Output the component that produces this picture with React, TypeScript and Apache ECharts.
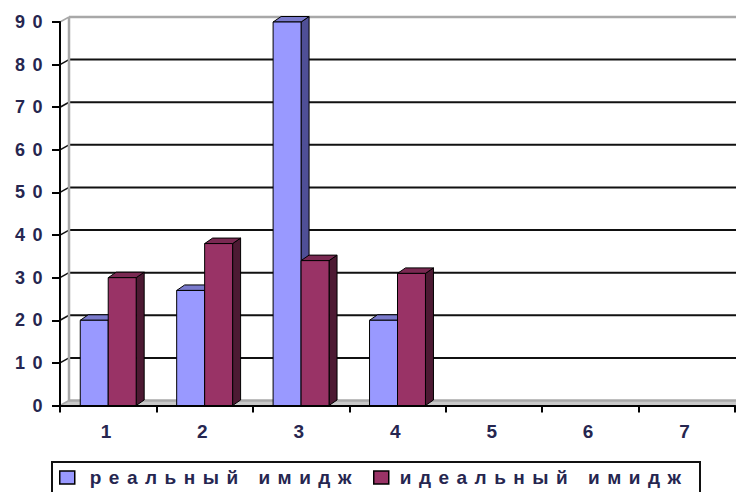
import React, { useEffect, useRef } from "react";
import * as echarts from "echarts";

const categories = ["1", "2", "3", "4", "5", "6", "7"];
const realImage = [20, 27, 90, 20, null, null, null];
const idealImage = [30, 38, 34, 31, null, null, null];
const yTicks = [0, 10, 20, 30, 40, 50, 60, 70, 80, 90];
const seriesNames = ["реальный имидж", "идеальный имидж"];

const FONT = "'Liberation Sans', Arial, sans-serif";
const TEXT_COLOR = "#262650";
const DX = 8;
const DY = -5.5;
const WALL_DX = 9;
const WALL_DY = -5;

const palettes = [
  { front: "#9999ff", top: "#7a7acc", side: "#4f4f96" },
  { front: "#993366", top: "#7a2952", side: "#4d1a33" },
];

function barRenderer(seriesIdx: number) {
  return (params: any, api: any) => {
    const val = api.value(1);
    if (val === null || val === undefined || isNaN(val)) return null;
    const idx = api.value(0);
    const base = api.coord([idx, 0]);
    const top = api.coord([idx, val]);
    const band = api.size([1, 0])[0];
    const w = band * 0.29;
    const left = seriesIdx === 0 ? base[0] - w : base[0];
    const right = left + w;
    const yb = base[1];
    const yt = top[1];
    const pal = palettes[seriesIdx];
    const stroke = { stroke: "#000", lineWidth: 1 };
    return {
      type: "group",
      children: [
        {
          type: "polygon",
          shape: {
            points: [
              [right, yt],
              [right + DX, yt + DY],
              [right + DX, yb + DY],
              [right, yb],
            ],
          },
          style: { fill: pal.side, ...stroke },
        },
        {
          type: "polygon",
          shape: {
            points: [
              [left, yt],
              [left + DX, yt + DY],
              [right + DX, yt + DY],
              [right, yt],
            ],
          },
          style: { fill: pal.top, ...stroke },
        },
        {
          type: "rect",
          shape: { x: left, y: yt, width: w, height: yb - yt },
          style: { fill: pal.front, ...stroke },
        },
      ],
    };
  };
}

function gridRenderer(params: any, api: any) {
  const v = api.value(1);
  const cs = params.coordSys;
  const p = api.coord([0, v]);
  const y = p[1];
  const x0 = cs.x;
  const isEdge = v === yTicks[0] || v === yTicks[yTicks.length - 1];
  const color = isEdge ? "#a8a8a8" : "#111";
  const lw = isEdge ? 2.5 : 2;
  const children: any[] = [
    {
      type: "line",
      shape: { x1: x0, y1: y, x2: x0 + WALL_DX, y2: y + WALL_DY },
      style: { stroke: color, lineWidth: 1.5 },
    },
    {
      type: "line",
      shape: { x1: x0 + WALL_DX, y1: y + WALL_DY, x2: x0 + cs.width + 20, y2: y + WALL_DY },
      style: { stroke: color, lineWidth: lw },
    },
  ];
  if (v === yTicks[0]) {
    children.unshift({
      type: "polygon",
      shape: {
        points: [
          [x0, y],
          [x0 + WALL_DX, y + WALL_DY],
          [x0 + cs.width + 20, y + WALL_DY],
          [x0 + cs.width + 20, y],
        ],
      },
      style: { fill: "#c8c8c8" },
    });
  }
  if (v === yTicks[yTicks.length - 1]) {
    const bottom = api.coord([0, yTicks[0]])[1];
    children.push({
      type: "line",
      shape: { x1: x0 + WALL_DX, y1: y + WALL_DY, x2: x0 + WALL_DX, y2: bottom + WALL_DY },
      style: { stroke: "#a8a8a8", lineWidth: 2.5 },
    });
  }
  return { type: "group", children };
}

export default function App() {
  const ref = useRef<HTMLDivElement>(null);
  useEffect(() => {
    if (!ref.current) return;
    const chart = echarts.init(ref.current, null, { renderer: "svg" });
    const legendText = {
      color: TEXT_COLOR,
      fontFamily: FONT,
      fontWeight: "bold",
      fontSize: 19,
    };
    const option: any = {
      animation: false,
      backgroundColor: "#fff",
      textStyle: { fontFamily: FONT },
      grid: { left: 60, right: 1, top: 22, bottom: 86.5, containLabel: false },
      xAxis: {
        type: "category",
        data: categories,
        boundaryGap: true,
        axisLine: { show: true, lineStyle: { color: "#000", width: 2 } },
        axisTick: { show: true, length: 7, interval: 0, lineStyle: { color: "#000", width: 2 } },
        axisLabel: {
          color: TEXT_COLOR,
          fontFamily: FONT,
          fontWeight: "bold",
          fontSize: 19,
          margin: 16,
          padding: [0, 0, 0, 3],
        },
        splitLine: { show: false },
        z: 10,
      },
      yAxis: {
        type: "value",
        min: 0,
        max: 90,
        interval: 10,
        axisLine: { show: true, lineStyle: { color: "#000", width: 2 } },
        axisTick: { show: true, length: 8, lineStyle: { color: "#000", width: 2 } },
        axisLabel: {
          color: TEXT_COLOR,
          fontFamily: FONT,
          fontWeight: "bold",
          fontSize: 18,
          margin: 10,
        },
        splitLine: { show: false },
        z: 10,
      },
      legend: [
        {
          data: [
            {
              name: seriesNames[0],
              icon: "rect",
              itemStyle: { color: palettes[0].front, borderColor: "#000", borderWidth: 1.5 },
            },
          ],
          left: 59,
          top: 468,
          padding: 0,
          itemWidth: 15,
          itemHeight: 13,
          selectedMode: false,
          textStyle: { ...legendText, padding: [0, 0, 0, 10] },
        },
        {
          data: [
            {
              name: seriesNames[1],
              icon: "rect",
              itemStyle: { color: palettes[1].front, borderColor: "#000", borderWidth: 1.5 },
            },
          ],
          left: 373,
          top: 468,
          padding: 0,
          itemWidth: 15,
          itemHeight: 13,
          selectedMode: false,
          textStyle: { ...legendText, padding: [0, 0, 0, 6] },
        },
      ],
      graphic: [
        {
          type: "rect",
          shape: { x: 52, y: 462, width: 648, height: 40 },
          style: { fill: "none", stroke: "#111", lineWidth: 2 },
          silent: true,
        },
      ],
      series: [
        {
          name: "grid",
          type: "custom",
          renderItem: gridRenderer,
          data: yTicks.map((v) => [0, v]),
          encode: { x: 0, y: 1 },
          silent: true,
          z: 1,
        },
        {
          name: seriesNames[0],
          type: "custom",
          renderItem: barRenderer(0),
          itemStyle: { color: palettes[0].front },
          data: realImage.map((v, i) => [i, v]),
          encode: { x: 0, y: 1 },
          z: 3,
        },
        {
          name: seriesNames[1],
          type: "custom",
          renderItem: barRenderer(1),
          itemStyle: { color: palettes[1].front },
          data: idealImage.map((v, i) => [i, v]),
          encode: { x: 0, y: 1 },
          z: 4,
        },
      ],
    };
    chart.setOption(option);
    return () => chart.dispose();
  }, []);
  return (
    <>
      <style>{`.chart-root text { letter-spacing: 7.5px; }`}</style>
      <div
        ref={ref}
        className="chart-root"
        style={{ position: "fixed", left: 0, top: 0, width: 736, height: 492 }}
      />
    </>
  );
}
